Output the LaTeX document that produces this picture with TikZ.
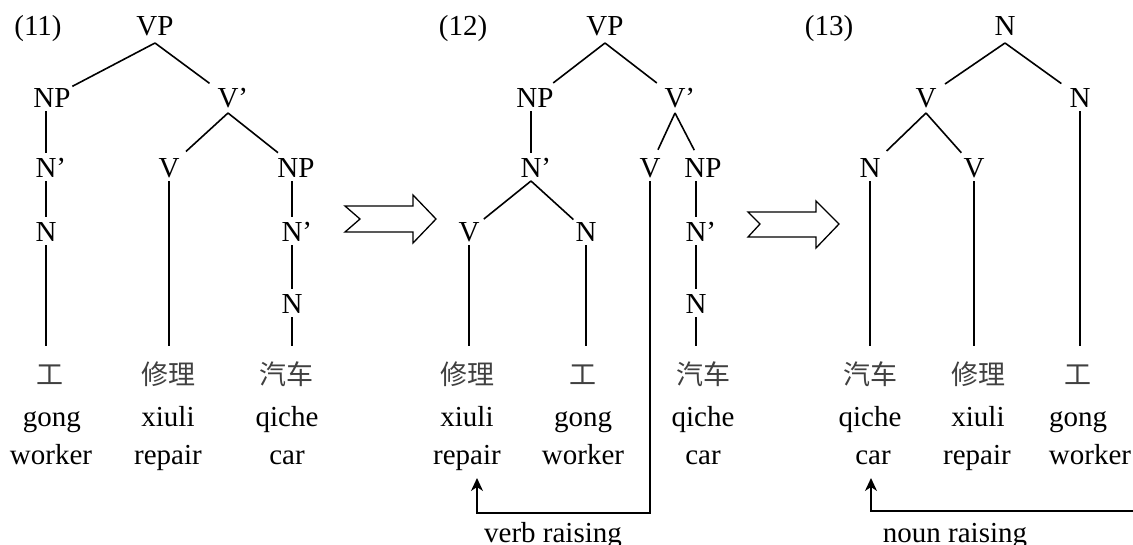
\documentclass[tikz,border=0pt]{standalone}
\usepackage{fontspec}
\setmainfont{Liberation Serif}
\newfontfamily\cjk{Noto Sans CJK SC}
\usetikzlibrary{arrows.meta}
\newcommand\labfont{\fontsize{29}{34}\selectfont}
\newcommand\zhfont{\cjk\fontsize{27}{32}\selectfont}
\tikzset{
  lab/.style={font=\labfont, inner sep=0pt, outer sep=4pt, text height=20pt, text depth=0pt, anchor=base},
  zh/.style={font=\zhfont, inner sep=0pt, outer ysep=13pt, text height=25pt, text depth=3pt, anchor=base, text=black!75},
  word/.style={font=\labfont, inner sep=0pt, anchor=base},
  br/.style={line width=1.6pt},
  dg/.style={line width=1.6pt, shorten >=23pt},
  arr/.style={line width=1.6pt, -{Stealth[length=13pt,width=12pt,inset=4pt]}},
  fat/.style={line width=1.3pt, line join=miter}
}
\begin{document}
\begin{tikzpicture}[x=1pt,y=-1pt]
\path[fill=white,use as bounding box] (0,0) rectangle (1133,544);

% ---------- Tree (11) ----------
\node[word] (lab11) at (38,35) {(11)};
\node[lab] (a_VP) at (155,35) {VP};
\node[lab] (a_NP) at (52,107) {NP};
\node[lab] (a_Vb) at (228,107) {V\rlap{’}};
\node[lab] (a_Nb) at (46,177) {N\rlap{’}};
\node[lab] (a_V) at (169,177) {V};
\node[lab] (a_NP2) at (296,177) {NP};
\node[lab] (a_N) at (46,241) {N};
\node[lab] (a_Nb2) at (292,241) {N\rlap{’}};
\node[lab] (a_N2) at (292,313) {N};
\node[zh] (a_z1) at (50,384) {工};
\node[zh] (a_z2) at (168,384) {修理};
\node[zh] (a_z3) at (286,384) {汽车};
\node[word] (a_p1) at (52,426) {gong};
\node[word] (a_p2) at (168,426) {xiuli};
\node[word] (a_p3) at (287,426) {qiche};
\node[word] (a_g1) at (51,464) {worker};
\node[word] (a_g2) at (168,464) {repair};
\node[word] (a_g3) at (287,464) {car};

\draw[dg] ([yshift=-4pt]a_VP.south) -- (a_NP.center);
\draw[dg] ([yshift=-4pt]a_VP.south) -- (a_Vb.center);
\draw[br] (a_NP.south -| a_Nb) -- (a_Nb);
\draw[br] (a_Nb) -- (a_N);
\draw[br] (a_N) -- (a_N |- a_z1.north);
\draw[dg] ([yshift=-2pt]a_Vb.south) -- (a_V.center);
\draw[dg] ([yshift=-2pt]a_Vb.south) -- (a_NP2.center);
\draw[br] (a_V) -- (a_V |- a_z2.north);
\draw[br] (a_NP2.south -| a_Nb2) -- (a_Nb2);
\draw[br] (a_Nb2) -- (a_N2);
\draw[br] (a_N2) -- (a_N2 |- a_z3.north);

% block arrow 1
\draw[fat] (345,206) -- (413,206) -- (413,195) -- (436,219) -- (413,243) -- (413,232) -- (345,232) -- (360,219) -- cycle;

% ---------- Tree (12) ----------
\node[word] (lab12) at (463,35) {(12)};
\node[lab] (b_VP) at (605,35) {VP};
\node[lab] (b_NP) at (535,107) {NP};
\node[lab] (b_Vb) at (675,107) {V\rlap{’}};
\node[lab] (b_Nb) at (531,177) {N\rlap{’}};
\node[lab] (b_V) at (650,177) {V};
\node[lab] (b_NP2) at (703,177) {NP};
\node[lab] (b_Vl) at (469,241) {V};
\node[lab] (b_N) at (586,241) {N};
\node[lab] (b_Nb2) at (696,241) {N\rlap{’}};
\node[lab] (b_N2) at (696,313) {N};
\node[zh] (b_z1) at (467,384) {修理};
\node[zh] (b_z2) at (583,384) {工};
\node[zh] (b_z3) at (703,384) {汽车};
\node[word] (b_p1) at (467,426) {xiuli};
\node[word] (b_p2) at (583,426) {gong};
\node[word] (b_p3) at (703,426) {qiche};
\node[word] (b_g1) at (467,464) {repair};
\node[word] (b_g2) at (583,464) {worker};
\node[word] (b_g3) at (703,464) {car};

\draw[dg] ([yshift=-4pt]b_VP.south) -- (b_NP.center);
\draw[dg] ([yshift=-4pt]b_VP.south) -- (b_Vb.center);
\draw[br] (b_NP.south -| b_Nb) -- (b_Nb);
\draw[dg, shorten >=19pt] (b_Nb.south) -- (b_Vl.center);
\draw[dg, shorten >=17pt] (b_Nb.south) -- (b_N.center);
\draw[br] (b_Vl) -- (b_Vl |- b_z1.north);
\draw[br] (b_N) -- (b_N |- b_z2.north);
\draw[dg, shorten >=19pt] ([yshift=-2pt]b_Vb.south) -- (b_V.center);
\draw[dg, shorten >=19pt] ([yshift=-2pt]b_Vb.south) -- (b_NP2.center);
\draw[br] (b_NP2.south -| b_Nb2) -- (b_Nb2);
\draw[br] (b_Nb2) -- (b_N2);
\draw[br] (b_N2) -- (b_N2 |- b_z3.north);

\coordinate (vrb) at (477,513);
\coordinate (vr) at (477,478);
\draw[arr] (b_V) |- (vrb) -- (vr);
\node[word] (vrlab) at (553,542) {verb raising};

% block arrow 2
\draw[fat] (748,212) -- (816,212) -- (816,201) -- (839,224) -- (816,248) -- (816,237) -- (748,237) -- (760,224) -- cycle;

% ---------- Tree (13) ----------
\node[word] (lab13) at (829,35) {(13)};
\node[lab] (c_N) at (1005,35) {N};
\node[lab] (c_V) at (926,107) {V};
\node[lab] (c_Nr) at (1080,107) {N};
\node[lab] (c_Nl) at (870,177) {N};
\node[lab] (c_Vl) at (974,177) {V};
\node[zh] (c_z1) at (870,384) {汽车};
\node[zh] (c_z2) at (978,384) {修理};
\node[zh] (c_z3) at (1078,384) {工};
\node[word] (c_p1) at (870,426) {qiche};
\node[word] (c_p2) at (978,426) {xiuli};
\node[word] (c_p3) at (1078,426) {gong};
\node[word] (c_g1) at (873,464) {car};
\node[word] (c_g2) at (977,464) {repair};
\node[word] (c_g3) at (1090,464) {worker};

\draw[dg] ([yshift=-4pt]c_N.south) -- (c_V.center);
\draw[dg] ([yshift=-4pt]c_N.south) -- (c_Nr.center);
\draw[dg] ([yshift=-2pt]c_V.south) -- (c_Nl.center);
\draw[dg, shorten >=19pt] ([yshift=-2pt]c_V.south) -- (c_Vl.center);
\draw[br] (c_Nl) -- (c_Nl |- c_z1.north);
\draw[br] (c_Vl) -- (c_Vl |- c_z2.north);
\draw[br] (c_Nr) -- (c_Nr |- c_z3.north);

\coordinate (nre) at (1140,511);
\coordinate (nrb) at (871,511);
\coordinate (nr) at (871,478);
\draw[arr] (nre) -- (nrb) -- (nr);
\node[word] (nrlab) at (955,542) {noun raising};
\end{tikzpicture}
\end{document}
